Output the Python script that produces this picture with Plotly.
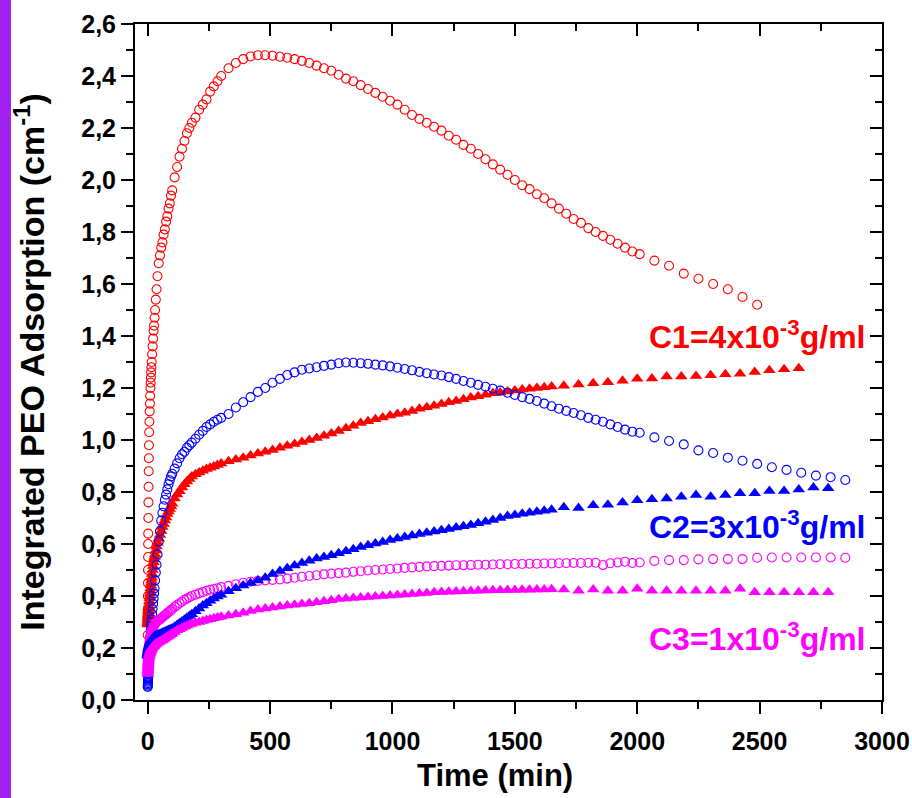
import plotly.graph_objects as go

# ---------------- data ----------------
EARLY_TIME = [0, 0.25, 0.5, 0.75, 1, 1.25, 1.5, 1.75, 2,
              2.5, 3, 3.5, 4, 4.5, 5,
              6, 7, 8, 9, 10, 11, 12, 13, 14, 15, 16,
              18, 20, 22, 24, 26, 28, 30,
              33, 36, 40, 45, 50, 55, 60, 65, 70, 75, 80, 85, 90, 95, 100,
              110, 120, 130, 140, 150, 160, 170, 180, 195, 210, 225, 240, 255, 270, 285, 300]
MID_TIME = [330, 360, 390, 420, 450, 480, 510, 540, 570, 600, 630, 660, 690, 720, 750,
            780, 810, 840, 870, 900, 930, 960, 990, 1020, 1050, 1080, 1110, 1140, 1170, 1200,
            1230, 1260, 1290, 1320, 1350, 1380, 1410, 1440, 1470, 1500, 1530, 1560, 1590, 1620, 1650]
LATE_TIME = [1680, 1710, 1740, 1770, 1800, 1830, 1860, 1890, 1920, 1950, 1980, 2010]
C1_CIRCLE_SPARSE_TIME = [2070, 2130, 2190, 2250, 2310, 2370, 2430, 2490]
C23_CIRCLE_SPARSE_TIME = [2070, 2130, 2190, 2250, 2310, 2370, 2430, 2490, 2550, 2610,
                          2670, 2730, 2790, 2850]
C1_TRI_SPARSE_TIME = [1700, 1760, 1820, 1880, 1940, 2000, 2060, 2120, 2180, 2240, 2300,
                      2360, 2420, 2480, 2540, 2600, 2660]
C23_TRI_SPARSE_TIME = [1700, 1760, 1820, 1880, 1940, 2000, 2060, 2120, 2180, 2240, 2300,
                       2360, 2420, 2480, 2540, 2600, 2660, 2720, 2780]

# C1 = 4x10^-3 g/ml, open circles
C1_CIRCLE_EARLY = [0.25, 0.30, 0.35, 0.40, 0.45, 0.50, 0.55, 0.60, 0.64,
                   0.70, 0.76, 0.82, 0.88, 0.93, 0.98,
                   1.03, 1.07, 1.11, 1.14, 1.17, 1.20, 1.22, 1.24, 1.26, 1.28, 1.30,
                   1.33, 1.36, 1.39, 1.42, 1.44, 1.47, 1.50,
                   1.54, 1.58, 1.63, 1.68, 1.71, 1.74, 1.76, 1.79, 1.81, 1.84, 1.86, 1.89, 1.91, 1.94, 1.96,
                   2.01, 2.05, 2.09, 2.12, 2.15, 2.18, 2.20, 2.22, 2.24, 2.27, 2.29, 2.31, 2.34, 2.36, 2.38, 2.40]
C1_CIRCLE_MID = [2.43, 2.45, 2.465, 2.475, 2.48, 2.48, 2.478, 2.474, 2.47, 2.465, 2.458, 2.45, 2.44,
                 2.43, 2.42, 2.405, 2.39, 2.38, 2.365, 2.35, 2.335, 2.32, 2.305, 2.29, 2.27, 2.25,
                 2.235, 2.22, 2.205, 2.19, 2.17, 2.155, 2.135, 2.12, 2.10, 2.08, 2.06, 2.04, 2.02,
                 2.00, 1.98, 1.965, 1.945, 1.93, 1.91]
C1_CIRCLE_LATE = [1.89, 1.87, 1.85, 1.835, 1.815, 1.80, 1.785, 1.77, 1.755, 1.74, 1.725, 1.715]
C1_CIRCLE_SPARSE = [1.69, 1.67, 1.64, 1.62, 1.60, 1.58, 1.55, 1.52]

# C1 filled triangles
C1_TRI_EARLY = [0.29, 0.295, 0.30, 0.305, 0.31, 0.315, 0.32, 0.325, 0.33,
                0.335, 0.34, 0.345, 0.35, 0.355, 0.36,
                0.37, 0.38, 0.39, 0.40, 0.41, 0.42, 0.43, 0.44, 0.45, 0.46, 0.47,
                0.485, 0.50, 0.515, 0.53, 0.54, 0.55, 0.56,
                0.575, 0.59, 0.605, 0.62, 0.635, 0.65, 0.665, 0.677, 0.69, 0.702, 0.715, 0.725, 0.735, 0.745, 0.755,
                0.775, 0.79, 0.803, 0.817, 0.83, 0.84, 0.85, 0.86, 0.868, 0.875, 0.882, 0.888, 0.893, 0.898, 0.904, 0.91]
C1_TRI_MID = [0.918, 0.925, 0.932, 0.94, 0.948, 0.955, 0.962, 0.97, 0.978, 0.985, 0.992, 1.0, 1.008,
              1.016, 1.025, 1.035, 1.045, 1.055, 1.065, 1.072, 1.08, 1.087, 1.094, 1.1, 1.105, 1.112,
              1.12, 1.126, 1.132, 1.138, 1.145, 1.15, 1.157, 1.163, 1.168, 1.174, 1.18, 1.183, 1.187,
              1.19, 1.194, 1.197, 1.2, 1.203, 1.206]
C1_TRI_SPARSE = [1.209, 1.213, 1.218, 1.222, 1.228, 1.236, 1.237, 1.244, 1.244, 1.246, 1.249,
                 1.253, 1.255, 1.262, 1.268, 1.272, 1.276]

# C2 = 3x10^-3 g/ml, open circles
C2_CIRCLE_EARLY = [0.05, 0.055, 0.06, 0.065, 0.07, 0.075, 0.08, 0.085, 0.09,
                   0.10, 0.11, 0.12, 0.13, 0.14, 0.15,
                   0.165, 0.18, 0.195, 0.21, 0.225, 0.24, 0.255, 0.27, 0.285, 0.30, 0.31,
                   0.33, 0.35, 0.37, 0.39, 0.41, 0.43, 0.46,
                   0.49, 0.52, 0.56, 0.61, 0.65, 0.69, 0.72, 0.745, 0.77, 0.79, 0.81, 0.83, 0.845, 0.86, 0.87,
                   0.89, 0.91, 0.93, 0.945, 0.955, 0.97, 0.98, 0.99, 1.005, 1.02, 1.035, 1.05, 1.06, 1.07, 1.078, 1.085]
C2_CIRCLE_MID = [1.10, 1.125, 1.145, 1.165, 1.185, 1.20, 1.22, 1.235, 1.25, 1.26, 1.27, 1.275, 1.28,
                 1.285, 1.29, 1.295, 1.298, 1.297, 1.295, 1.293, 1.29, 1.287, 1.283, 1.278, 1.273,
                 1.268, 1.262, 1.257, 1.252, 1.248, 1.242, 1.235, 1.227, 1.22, 1.212, 1.205, 1.197,
                 1.19, 1.182, 1.173, 1.165, 1.158, 1.15, 1.14, 1.13]
C2_CIRCLE_LATE = [1.12, 1.112, 1.104, 1.095, 1.085, 1.078, 1.07, 1.06, 1.05, 1.04, 1.032, 1.028]
C2_CIRCLE_SPARSE = [1.01, 0.996, 0.983, 0.96, 0.95, 0.932, 0.92, 0.908, 0.895, 0.885, 0.874,
                    0.863, 0.857, 0.846]

# C2 filled triangles
C2_TRI_EARLY = [0.17, 0.172, 0.174, 0.176, 0.178, 0.18, 0.182, 0.184, 0.186,
                0.19, 0.193, 0.196, 0.199, 0.202, 0.205,
                0.208, 0.211, 0.214, 0.217, 0.22, 0.222, 0.224, 0.226, 0.228, 0.23, 0.231,
                0.233, 0.235, 0.237, 0.239, 0.241, 0.243, 0.245,
                0.247, 0.249, 0.25, 0.252, 0.254, 0.256, 0.258, 0.26, 0.262, 0.264, 0.266, 0.268, 0.27, 0.272, 0.275,
                0.282, 0.288, 0.295, 0.302, 0.309, 0.316, 0.323, 0.33, 0.341, 0.352, 0.363, 0.372, 0.382, 0.39, 0.398, 0.405]
C2_TRI_MID = [0.418, 0.43, 0.44, 0.45, 0.46, 0.47, 0.485, 0.496, 0.507, 0.517, 0.527, 0.536, 0.544,
              0.55, 0.557, 0.564, 0.572, 0.58, 0.588, 0.595, 0.602, 0.608, 0.615, 0.621, 0.627,
              0.633, 0.638, 0.643, 0.648, 0.653, 0.658, 0.663, 0.668, 0.673, 0.68, 0.686, 0.692,
              0.7, 0.708, 0.712, 0.716, 0.72, 0.724, 0.728, 0.732]
C2_TRI_SPARSE = [0.741, 0.738, 0.749, 0.751, 0.76, 0.768, 0.772, 0.775, 0.782, 0.788, 0.782,
                 0.788, 0.795, 0.795, 0.804, 0.804, 0.81, 0.817, 0.814]

# C3 = 1x10^-3 g/ml, open circles
C3_CIRCLE_EARLY = [0.13, 0.135, 0.14, 0.145, 0.15, 0.155, 0.16, 0.165, 0.17,
                   0.175, 0.18, 0.185, 0.19, 0.195, 0.20,
                   0.21, 0.22, 0.23, 0.235, 0.24, 0.245, 0.25, 0.255, 0.26, 0.262, 0.265,
                   0.27, 0.275, 0.28, 0.284, 0.288, 0.291, 0.294,
                   0.297, 0.30, 0.303, 0.307, 0.31, 0.314, 0.318, 0.322, 0.326, 0.33, 0.334, 0.338, 0.342, 0.346, 0.35,
                   0.358, 0.365, 0.372, 0.378, 0.385, 0.39, 0.395, 0.40, 0.405, 0.41, 0.415, 0.42, 0.424, 0.427, 0.43, 0.434]
C3_CIRCLE_MID = [0.439, 0.445, 0.451, 0.455, 0.458, 0.46, 0.462, 0.464, 0.467, 0.47, 0.474, 0.477,
                 0.48, 0.483, 0.486, 0.488, 0.49, 0.493, 0.495, 0.498, 0.5, 0.502, 0.504, 0.506,
                 0.508, 0.51, 0.512, 0.514, 0.515, 0.516, 0.517, 0.518, 0.518, 0.519, 0.52, 0.52,
                 0.521, 0.522, 0.522, 0.523, 0.523, 0.524, 0.524, 0.525, 0.525]
C3_CIRCLE_LATE = [0.526, 0.526, 0.527, 0.527, 0.528, 0.528, 0.519, 0.526, 0.529, 0.532, 0.527, 0.529]
C3_CIRCLE_SPARSE = [0.535, 0.538, 0.538, 0.541, 0.542, 0.542, 0.542, 0.547, 0.548, 0.548, 0.548,
                    0.548, 0.548, 0.547]

# C3 filled triangles
C3_TRI_EARLY = [0.10, 0.105, 0.11, 0.115, 0.12, 0.125, 0.13, 0.135, 0.14,
                0.145, 0.15, 0.155, 0.16, 0.163, 0.166,
                0.17, 0.174, 0.178, 0.181, 0.184, 0.187, 0.19, 0.192, 0.194, 0.196, 0.198,
                0.20, 0.203, 0.205, 0.207, 0.209, 0.211, 0.213,
                0.215, 0.217, 0.22, 0.222, 0.225, 0.228, 0.23, 0.234, 0.237, 0.24, 0.243, 0.246, 0.25, 0.253, 0.256,
                0.262, 0.268, 0.272, 0.277, 0.282, 0.286, 0.29, 0.293, 0.297, 0.30, 0.304, 0.308, 0.311, 0.314, 0.317, 0.32]
C3_TRI_MID = [0.325, 0.33, 0.336, 0.342, 0.348, 0.352, 0.356, 0.36, 0.363, 0.366, 0.369, 0.372,
              0.376, 0.38, 0.384, 0.388, 0.39, 0.392, 0.394, 0.396, 0.398, 0.4, 0.402, 0.404, 0.406,
              0.408, 0.41, 0.412, 0.414, 0.415, 0.416, 0.417, 0.418, 0.419, 0.42, 0.421, 0.422,
              0.422, 0.423, 0.423, 0.424, 0.424, 0.425, 0.425, 0.426]
C3_TRI_SPARSE = [0.425, 0.42, 0.425, 0.42, 0.42, 0.428, 0.42, 0.42, 0.42, 0.42, 0.42, 0.42,
                 0.428, 0.414, 0.414, 0.414, 0.414, 0.414, 0.414]

X_TICKS = [0, 500, 1000, 1500, 2000, 2500, 3000]
X_TICK_TEXT = ["0", "500", "1000", "1500", "2000", "2500", "3000"]
Y_TICKS = [0.0, 0.2, 0.4, 0.6, 0.8, 1.0, 1.2, 1.4, 1.6, 1.8, 2.0, 2.2, 2.4, 2.6]
Y_TICK_TEXT = ["0,0", "0,2", "0,4", "0,6", "0,8", "1,0", "1,2", "1,4", "1,6", "1,8",
               "2,0", "2,2", "2,4", "2,6"]

X_TITLE = "Time (min)"
Y_TITLE = "Integrated PEO Adsorption (cm<sup>-1</sup>)"
LABELS = ["C1=4x10<sup>-3</sup>g/ml", "C2=3x10<sup>-3</sup>g/ml", "C3=1x10<sup>-3</sup>g/ml"]
RED, BLUE, MAGENTA = "#FF0000", "#0000FF", "#FF00FF"

FONT = "Liberation Sans, Arial, Helvetica, sans-serif"
X_RANGE = [-52, 3000]
Y_RANGE = [0, 2.6]

# ---------------- figure ----------------
fig = go.Figure()


def circles(x, y, color):
    fig.add_trace(go.Scatter(
        x=x, y=y, mode="markers", showlegend=False, hoverinfo="skip",
        marker=dict(symbol="circle-open", size=9, color=color, line=dict(width=1.1, color=color))))


def triangles(x, y, color):
    fig.add_trace(go.Scatter(
        x=x, y=y, mode="markers", showlegend=False, hoverinfo="skip",
        marker=dict(symbol="triangle-up", size=11, color=color, line=dict(width=0))))


circles(EARLY_TIME + MID_TIME + LATE_TIME + C1_CIRCLE_SPARSE_TIME,
        C1_CIRCLE_EARLY + C1_CIRCLE_MID + C1_CIRCLE_LATE + C1_CIRCLE_SPARSE, RED)
triangles(EARLY_TIME + MID_TIME + C1_TRI_SPARSE_TIME,
          C1_TRI_EARLY + C1_TRI_MID + C1_TRI_SPARSE, RED)
circles(EARLY_TIME + MID_TIME + LATE_TIME + C23_CIRCLE_SPARSE_TIME,
        C2_CIRCLE_EARLY + C2_CIRCLE_MID + C2_CIRCLE_LATE + C2_CIRCLE_SPARSE, BLUE)
circles(EARLY_TIME + MID_TIME + LATE_TIME + C23_CIRCLE_SPARSE_TIME,
        C3_CIRCLE_EARLY + C3_CIRCLE_MID + C3_CIRCLE_LATE + C3_CIRCLE_SPARSE, MAGENTA)
triangles(EARLY_TIME + MID_TIME + C23_TRI_SPARSE_TIME,
          C2_TRI_EARLY + C2_TRI_MID + C2_TRI_SPARSE, BLUE)
triangles(EARLY_TIME + MID_TIME + C23_TRI_SPARSE_TIME,
          C3_TRI_EARLY + C3_TRI_MID + C3_TRI_SPARSE, MAGENTA)

# empty trace to carry the mirrored (top / right) axes
fig.add_trace(go.Scatter(x=[None], y=[None], xaxis="x2", yaxis="y2",
                         showlegend=False, hoverinfo="skip"))

tick_font = dict(family=FONT, size=25, color="black", weight="bold")
common = dict(showgrid=False, zeroline=False, showline=True, linewidth=2, linecolor="black",
              tickwidth=2, tickcolor="black", ticklen=12, automargin=False)

fig.update_layout(
    width=912, height=798,
    margin=dict(l=135, r=30, t=24, b=98, autoexpand=False),
    plot_bgcolor="white", paper_bgcolor="white",
    font=dict(family=FONT, color="black"),
    xaxis=dict(range=X_RANGE, tickmode="array", tickvals=X_TICKS, ticktext=X_TICK_TEXT,
               ticks="outside", tickfont=tick_font, ticklabelstandoff=6,
               minor=dict(dtick=250, tick0=0, ticks="outside", ticklen=7, tickwidth=2, tickcolor="black"),
               **common),
    yaxis=dict(range=Y_RANGE, tickmode="array", tickvals=Y_TICKS, ticktext=Y_TICK_TEXT,
               ticks="outside", tickfont=tick_font,
               minor=dict(dtick=0.1, tick0=0, ticks="outside", ticklen=7, tickwidth=2, tickcolor="black"),
               title=dict(text=Y_TITLE, standoff=26,
                          font=dict(family=FONT, size=34, color="black", weight="bold")),
               **common),
    xaxis2=dict(range=X_RANGE, overlaying="x", anchor="y", side="top", tickmode="array",
                tickvals=X_TICKS, ticks="inside", showticklabels=False,
                minor=dict(dtick=250, tick0=0, ticks="inside", ticklen=7, tickwidth=2, tickcolor="black"),
                **common),
    yaxis2=dict(range=Y_RANGE, overlaying="y", anchor="x", side="right", tickmode="array",
                tickvals=Y_TICKS, ticks="inside", showticklabels=False,
                minor=dict(dtick=0.1, tick0=0, ticks="inside", ticklen=7, tickwidth=2, tickcolor="black"),
                **common),
)

# x axis title, placed a little left of centre as in the original
fig.add_annotation(x=(495 - 135) / 747, y=(700 - 775) / 676, xref="paper", yref="paper",
                   text=X_TITLE, showarrow=False, xanchor="center", yanchor="middle",
                   font=dict(family=FONT, size=31, color="black", weight="bold"))

# concentration labels
for text, color, yv in zip(LABELS, [RED, BLUE, MAGENTA], [1.405, 0.672, 0.243]):
    fig.add_annotation(x=2940, y=yv, xref="x", yref="y", text=text, showarrow=False,
                       xanchor="right", yanchor="middle",
                       font=dict(family=FONT, size=32, color=color, weight="bold"))

# purple strip at the left edge of the picture
fig.add_shape(type="rect", xref="paper", yref="paper",
              x0=-135 / 747, x1=-124 / 747, y0=-98 / 676, y1=724 / 676,
              fillcolor="#A020F0", line=dict(width=0), layer="below")

fig.write_html("out.html", config={"displayModeBar": False},
               post_script="document.body.style.margin='0px';document.body.style.overflow='hidden';")
